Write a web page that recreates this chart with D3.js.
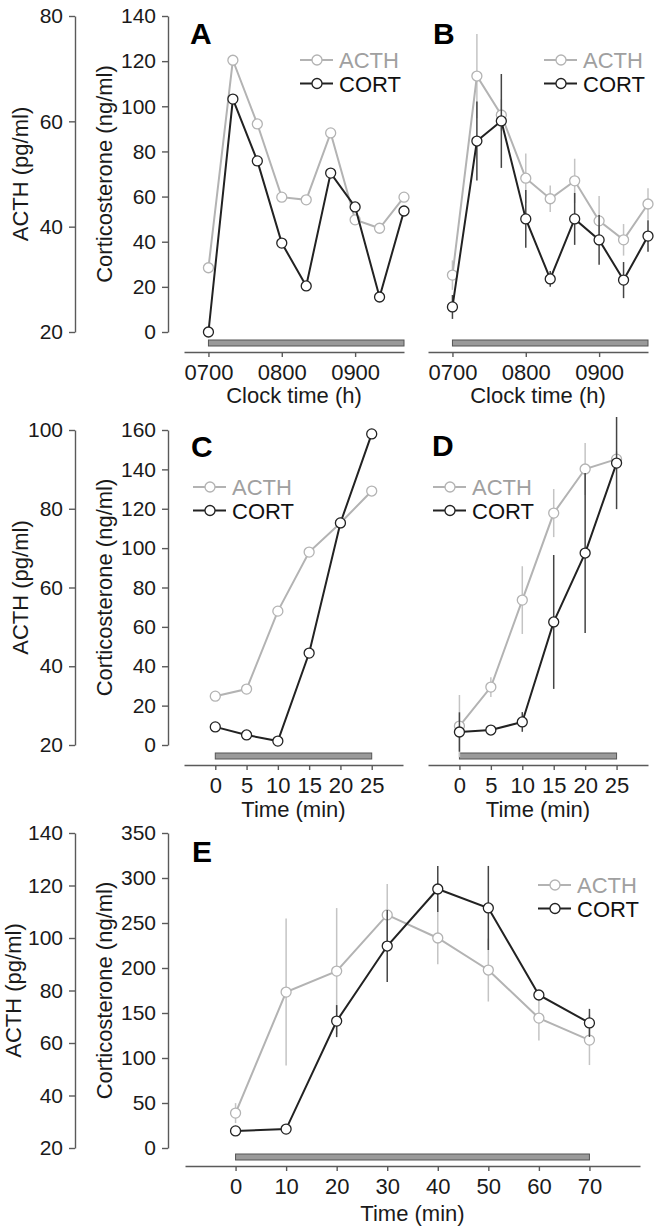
<!DOCTYPE html>
<html>
<head>
<meta charset="utf-8">
<script src="https://cdn.jsdelivr.net/npm/d3@7"></script>
<style>
  body { margin: 0; background: #fff; }
  svg text { font-family: "Liberation Sans", Arial, Helvetica, sans-serif; }
</style>
</head>
<body>
<script>
'use strict';

// ---- data ----
// clock times in minutes after 0700
const clockMin = [0, 20, 40, 60, 80, 100, 120, 140, 160];
const clockTicks = [0, 60, 120];
const clockTickLabels = ["0700", "0800", "0900"];
const minCD = [0, 5, 10, 15, 20, 25];
const minE = [0, 10, 20, 30, 40, 50, 60, 70];

const acthA = [32.2, 71.6, 59.5, 45.6, 45.1, 57.8, 41.3, 39.7, 45.6];
const cortA = [0, 103.2, 75.8, 39.4, 20.4, 70.4, 55.4, 15.5, 53.6];

const acthB    = [30.8, 68.6, 61.2, 49.2, 45.3, 48.7, 41.1, 37.5, 44.3];
const acthBErr = [2.8, 8.0, 3.0, 4.7, 2.5, 4.2, 4.7, 3.0, 3.0];
const cortB    = [11.1, 84.6, 93.5, 50.1, 23.5, 50.1, 40.8, 23.0, 42.5];
const cortBErr = [5.3, 17.5, 20.8, 12.8, 3.5, 11.5, 11.0, 8.0, 7.0];

const acthC = [32.4, 34.2, 54.0, 69.0, 76.4, 84.5];
const cortC = [9.2, 5.1, 2.0, 46.7, 112.8, 158.0];

const acthD    = [24.8, 34.7, 56.8, 78.9, 90.1, 92.6];
const acthDErr = [7.9, 2.5, 8.6, 6.1, 6.6, 2.0];
const cortD    = [6.6, 7.6, 11.7, 62.5, 97.5, 143.2];
const cortDErr = [10.0, 2.0, 5.0, 34.0, 40.6, 23.4];

const acthE    = [33.3, 79.4, 87.4, 108.8, 100.0, 87.8, 69.5, 61.1];
const acthEErr = [3.8, 28.0, 24.0, 11.8, 10.0, 12.0, 8.5, 9.5];
const cortE    = [19, 21, 141, 224.4, 287.8, 266.7, 170, 139];
const cortEErr = [0, 0, 17.8, 40.0, 25.6, 46.7, 5.0, 15.6];

// stimulus period (grey bar)
const stimClock = [0, 160];
const stimCD = [0, 25];
const stimE = [0, 70];

const acthTicks1 = [20, 40, 60, 80];
const cortTicks1 = [0, 20, 40, 60, 80, 100, 120, 140];
const acthTicks2 = [20, 40, 60, 80, 100];
const cortTicks2 = [0, 20, 40, 60, 80, 100, 120, 140, 160];
const acthTicks3 = [20, 40, 60, 80, 100, 120, 140];
const cortTicks3 = [0, 50, 100, 150, 200, 250, 300, 350];

const seriesNames = ["ACTH", "CORT"];

// ---- layout ----
const width = 654, height = 1229;
const grey = "#b3b3b3", dark = "#222";
const axisCol = "#5a5a5a";

const svg = d3.select("body").append("svg")
    .attr("width", width)
    .attr("height", height);

const rows = [
  { top: 16,  bottom: 332,  axisY: 352,  titleY: 403,  labX: 28, acth: [20, 80],  cort: [0, 140], acthTicks: acthTicks1, cortTicks: cortTicks1 },
  { top: 430, bottom: 745,  axisY: 765,  titleY: 817,  labX: 28, acth: [20, 100], cort: [0, 160], acthTicks: acthTicks2, cortTicks: cortTicks2 },
  { top: 833, bottom: 1148, axisY: 1166, titleY: 1221, labX: 21, acth: [20, 140], cort: [0, 350], acthTicks: acthTicks3, cortTicks: cortTicks3 }
];

function styleAxis(g, size) {
  g.select(".domain").attr("stroke", axisCol).attr("stroke-width", 1.4);
  g.selectAll(".tick line").attr("stroke", axisCol).attr("stroke-width", 1.4);
  g.selectAll(".tick text").attr("fill", "#1a1a1a").style("font-size", size);
}

// y axes + titles at the left of each row
rows.forEach(row => {
  const yA = d3.scaleLinear().domain(row.acth).range([row.bottom, row.top]);
  const yC = d3.scaleLinear().domain(row.cort).range([row.bottom, row.top]);

  svg.append("g")
      .attr("transform", "translate(75,0)")
      .call(d3.axisLeft(yA).tickValues(row.acthTicks).tickSize(6).tickPadding(6).tickSizeOuter(0))
      .call(styleAxis, "21px");

  svg.append("g")
      .attr("transform", "translate(168,0)")
      .call(d3.axisLeft(yC).tickValues(row.cortTicks).tickSize(6).tickPadding(6).tickSizeOuter(0))
      .call(styleAxis, "21px");

  const mid = (row.top + row.bottom) / 2;
  svg.append("text")
      .attr("transform", `translate(${row.labX},${mid}) rotate(-90)`)
      .attr("text-anchor", "middle")
      .style("font-size", "22px")
      .attr("fill", "#1a1a1a")
      .text("ACTH (pg/ml)");
  svg.append("text")
      .attr("transform", `translate(112,${mid}) rotate(-90)`)
      .attr("text-anchor", "middle")
      .style("font-size", "22px")
      .attr("fill", "#1a1a1a")
      .text("Corticosterone (ng/ml)");
});

const panels = [
  { id: "A", row: 0, xr: [184, 404], xd: [-20, 160], t: clockMin, ticks: clockTicks, labels: clockTickLabels, stim: stimClock,
    acth: acthA, acthErr: null, cort: cortA, cortErr: null, letter: [190, 44], legend: [300, 60], title: "Clock time (h)" },
  { id: "B", row: 0, xr: [428, 648], xd: [-20, 160], t: clockMin, ticks: clockTicks, labels: clockTickLabels, stim: stimClock,
    acth: acthB, acthErr: acthBErr, cort: cortB, cortErr: cortBErr, letter: [433, 44], legend: [544, 60], title: "Clock time (h)" },
  { id: "C", row: 1, xr: [184, 403], xd: [-5, 30], t: minCD, ticks: minCD, labels: null, stim: stimCD,
    acth: acthC, acthErr: null, cort: cortC, cortErr: null, letter: [191, 457], legend: [193, 487], title: "Time (min)" },
  { id: "D", row: 1, xr: [428, 648], xd: [-5, 30], t: minCD, ticks: minCD, labels: null, stim: stimCD,
    acth: acthD, acthErr: acthDErr, cort: cortD, cortErr: cortDErr, letter: [432, 456], legend: [433, 487], title: "Time (min)" },
  { id: "E", row: 2, xr: [185, 640], xd: [-10, 80], t: minE, ticks: minE, labels: null, stim: stimE,
    acth: acthE, acthErr: acthEErr, cort: cortE, cortErr: cortEErr, letter: [192, 862], legend: [538, 885], title: "Time (min)" }
];

function drawSeries(g, t, vals, errs, x, y, col, errCol) {
  const pts = t.map((d, i) => ({ t: d, v: vals[i], e: errs ? errs[i] : 0 }));
  g.selectAll(null).data(pts.filter(d => d.e > 0)).join("line")
      .attr("x1", d => x(d.t)).attr("x2", d => x(d.t))
      .attr("y1", d => y(d.v - d.e)).attr("y2", d => y(d.v + d.e))
      .attr("stroke", errCol).attr("stroke-width", 1.5);
  g.append("path").datum(pts)
      .attr("d", d3.line().x(d => x(d.t)).y(d => y(d.v)))
      .attr("fill", "none").attr("stroke", col).attr("stroke-width", 2);
  g.selectAll(null).data(pts).join("circle")
      .attr("cx", d => x(d.t)).attr("cy", d => y(d.v)).attr("r", 5)
      .attr("fill", "#fff").attr("stroke", col).attr("stroke-width", 1.3);
}

panels.forEach(p => {
  const row = rows[p.row];
  const x = d3.scaleLinear().domain(p.xd).range(p.xr);
  const yA = d3.scaleLinear().domain(row.acth).range([row.bottom, row.top]);
  const yC = d3.scaleLinear().domain(row.cort).range([row.bottom, row.top]);

  const xAxis = d3.axisBottom(x).tickValues(p.ticks).tickSize(5).tickPadding(7).tickSizeOuter(0);
  if (p.labels) xAxis.tickFormat((d, i) => p.labels[i]);
  svg.append("g")
      .attr("transform", `translate(0,${row.axisY})`)
      .call(xAxis)
      .call(styleAxis, "22px");

  svg.append("rect")
      .attr("x", x(p.stim[0]))
      .attr("width", x(p.stim[1]) - x(p.stim[0]))
      .attr("y", row.axisY - 12)
      .attr("height", 6)
      .attr("fill", "#9a9a9a")
      .attr("stroke", "#555")
      .attr("stroke-width", 1);

  svg.append("text")
      .attr("x", (p.xr[0] + p.xr[1]) / 2)
      .attr("y", row.titleY)
      .attr("text-anchor", "middle")
      .style("font-size", "22px")
      .attr("fill", "#1a1a1a")
      .text(p.title);

  const g = svg.append("g");
  drawSeries(g, p.t, p.acth, p.acthErr, x, yA, grey, "#c4c4c4");
  drawSeries(g, p.t, p.cort, p.cortErr, x, yC, dark, "#444");

  svg.append("text")
      .attr("x", p.letter[0]).attr("y", p.letter[1])
      .style("font-size", "30px").style("font-weight", "bold")
      .text(p.id);

  // legend
  const lg = svg.append("g").attr("transform", `translate(${p.legend[0]},${p.legend[1]})`);
  seriesNames.forEach((name, i) => {
    const col = i === 0 ? grey : dark;
    const yy = i * 23.5;
    lg.append("line").attr("x1", 0).attr("x2", 33).attr("y1", yy).attr("y2", yy)
        .attr("stroke", col).attr("stroke-width", 2);
    lg.append("circle").attr("cx", 17).attr("cy", yy).attr("r", 5)
        .attr("fill", "#fff").attr("stroke", col).attr("stroke-width", 1.3);
    lg.append("text").attr("x", 39).attr("y", yy + 8)
        .style("font-size", "22px")
        .attr("fill", i === 0 ? "#a0a0a0" : "#111")
        .text(name);
  });
});
</script>
</body>
</html>
